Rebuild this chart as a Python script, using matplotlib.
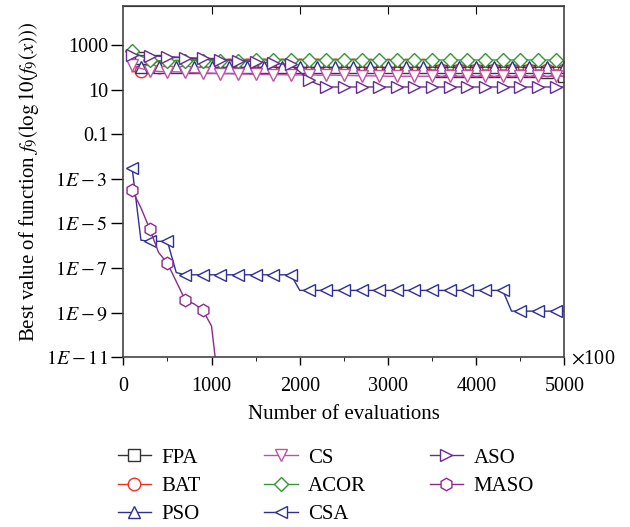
import numpy as np
import matplotlib
matplotlib.use("Agg")
import matplotlib.pyplot as plt

plt.rcParams["font.family"] = ["Liberation Serif", "DejaVu Serif"]
plt.rcParams["mathtext.fontset"] = "stix"

# evaluations (x100), one point every 100
evals = np.arange(100, 5001, 100)

# log10 of best value
fpa = [2.45, 2.4, 2.33, 2.28, 2.24, 2.2, 2.18, 2.15, 2.15, 2.13,
       2.12, 2.12, 2.1, 2.1, 2.1, 2.1, 2.1, 2.1, 2.1, 2.1,
       2.1, 2.1, 2.1, 2.1, 2.1, 2.1, 2.08, 2.08, 2.08, 2.08,
       2.08, 2.07, 2.06, 2.05, 1.84, 1.84, 1.84, 1.84, 1.84, 1.84,
       1.84, 1.84, 1.84, 1.84, 1.84, 1.84, 1.84, 1.78, 1.7, 1.62]
bat = [1.8, 1.85, 1.92, 2.0, 2.05, 2.08, 2.1, 2.1, 2.1, 2.1,
       2.1, 2.1, 2.1, 2.1, 2.1, 2.1, 2.1, 2.1, 2.1, 2.1,
       2.1, 2.1, 2.1, 2.1, 2.1, 2.1, 2.1, 2.1, 2.1, 2.1,
       2.1, 2.1, 2.1, 2.1, 1.88, 1.88, 1.88, 1.88, 1.88, 1.88,
       1.88, 1.88, 1.88, 1.88, 1.88, 1.88, 1.88, 1.88, 1.88, 1.88]
pso = [2.05, 2.0, 2.0, 2.0, 2.0, 2.0, 2.0, 2.0, 2.0, 2.0,
       2.0, 2.0, 2.0, 2.0, 2.0, 2.0, 2.0, 2.0, 2.0, 2.0,
       2.0, 2.0, 2.0, 2.0, 2.0, 2.0, 2.0, 2.0, 2.0, 2.0,
       2.0, 2.0, 2.0, 2.0, 2.0, 2.0, 2.0, 2.0, 2.0, 2.0,
       2.0, 2.0, 2.0, 2.0, 2.0, 2.0, 2.0, 2.0, 2.0, 2.0]
cs = [2.1, 1.95, 1.85, 1.82, 1.8, 1.8, 1.78, 1.76, 1.75, 1.74,
      1.72, 1.72, 1.7, 1.7, 1.68, 1.68, 1.67, 1.67, 1.66, 1.66,
      1.66, 1.65, 1.65, 1.65, 1.64, 1.63, 1.62, 1.62, 1.61, 1.6,
      1.6, 1.6, 1.6, 1.6, 1.6, 1.6, 1.6, 1.6, 1.6, 1.6,
      1.6, 1.6, 1.6, 1.6, 1.6, 1.6, 1.6, 1.6, 1.6, 1.6]
acor = [2.75, 2.5, 2.35, 2.3, 2.3, 2.3, 2.3, 2.3, 2.3, 2.3,
        2.3, 2.3, 2.3, 2.3, 2.32, 2.33, 2.33, 2.33, 2.33, 2.33,
        2.33, 2.33, 2.33, 2.33, 2.33, 2.33, 2.33, 2.33, 2.33, 2.33,
        2.33, 2.33, 2.33, 2.33, 2.33, 2.33, 2.33, 2.33, 2.33, 2.33,
        2.33, 2.33, 2.33, 2.33, 2.33, 2.33, 2.33, 2.33, 2.33, 2.33]
csa = [-2.5, -5.75, -5.8, -5.8, -5.8, -7.2, -7.3, -7.3, -7.3, -7.3,
       -7.3, -7.3, -7.3, -7.3, -7.3, -7.3, -7.3, -7.3, -7.3, -8.0,
       -8.0, -8.0, -8.0, -8.0, -8.0, -8.0, -8.0, -8.0, -8.0, -8.0,
       -8.0, -8.0, -8.0, -8.0, -8.0, -8.0, -8.0, -8.0, -8.0, -8.0,
       -8.0, -8.0, -8.0, -8.93, -8.93, -8.93, -8.93, -8.93, -8.93, -8.93]
aso = [2.55, 2.53, 2.52, 2.5, 2.48, 2.46, 2.44, 2.42, 2.4, 2.38,
       2.35, 2.33, 2.3, 2.28, 2.25, 2.22, 2.18, 2.15, 2.13, 1.8,
       1.43, 1.25, 1.12, 1.12, 1.12, 1.12, 1.12, 1.12, 1.12, 1.12,
       1.12, 1.12, 1.12, 1.12, 1.12, 1.12, 1.12, 1.12, 1.12, 1.12,
       1.12, 1.12, 1.12, 1.12, 1.12, 1.12, 1.12, 1.12, 1.12, 1.12]
maso_x = [100, 200, 300, 400, 500, 600, 700, 800, 900, 1000, 1100]
maso = [-3.5, -4.3, -5.25, -6.3, -6.78, -7.6, -8.42, -8.6, -8.87, -9.6, -13.0]

series = [
    ("FPA", evals, fpa, "#333333", "s", 1),
    ("BAT", evals, bat, "#ee3124", "o", 1),
    ("PSO", evals, pso, "#2e3192", "^", 1),
    ("CS", evals, cs, "#c052a0", "v", 0),
    ("ACOR", evals, acor, "#339933", "D", 0),
    ("CSA", evals, csa, "#2e3192", "<", 0),
    ("ASO", evals, aso, "#662d91", ">", 0),
    ("MASO", maso_x, maso, "#8b2a8b", "h", 0),
]

fig = plt.figure(figsize=(6.3, 5.27), dpi=100)
ax = fig.add_axes([0.1957, 0.322, 0.7003, 0.667])

for name, xs, ys, col, mk, start in series:
    ms = 7 if mk == "D" else 9
    ax.plot(xs, 10.0 ** np.array(ys), color=col, lw=1.0, marker=mk,
            markersize=ms, markerfacecolor="white", markeredgecolor=col,
            markeredgewidth=1.0, markevery=slice(start, None, 2), label=name)

ax.set_yscale("log")
ax.set_xlim(0, 5000)
ax.set_ylim(1e-11, 10 ** 4.76)
ax.set_xticks([0, 1000, 2000, 3000, 4000, 5000])
ax.set_xticks([500, 1500, 2500, 3500, 4500], minor=True)
yt = [1e3, 1e1, 1e-1, 1e-3, 1e-5, 1e-7, 1e-9, 1e-11]
ax.set_yticks(yt)
ax.set_yticklabels(["1000", "10", "0.1", r"$1E-3$", r"$1E-5$", r"$1E-7$",
                    r"$1E-9$", r"$1E-11$"])
ax.yaxis.set_minor_locator(matplotlib.ticker.NullLocator())
ax.tick_params(axis="both", which="major", direction="out", labelsize=14.5,
               width=1)
ax.tick_params(axis="x", which="major", length=6, pad=8)
ax.tick_params(axis="y", which="major", length=9, pad=2)
ax.tick_params(axis="x", which="minor", direction="out", length=3)

top = ax.secondary_xaxis("top")
top.set_xticks([1000, 2000, 3000, 4000])
top.tick_params(direction="in", length=6, labeltop=False)

for s in ax.spines.values():
    s.set_color("#444444")
    s.set_linewidth(1.2)

ax.set_xlabel("Number of evaluations", fontsize=15, labelpad=7)
ax.set_ylabel(r"Best value of function $f_9(\log 10(f_9(x)))$", fontsize=15,
              labelpad=3.5)
ax.text(1.015, -0.005, r"$\times$100", transform=ax.transAxes, fontsize=14.5,
        va="center", ha="left")

ax.legend(loc="upper left", bbox_to_anchor=(-0.055, -0.205), ncol=3,
          frameon=False, fontsize=15, handlelength=1.6, columnspacing=3.05,
          labelspacing=0.42, handletextpad=0.5)

fig.savefig("out.png", dpi=100)
